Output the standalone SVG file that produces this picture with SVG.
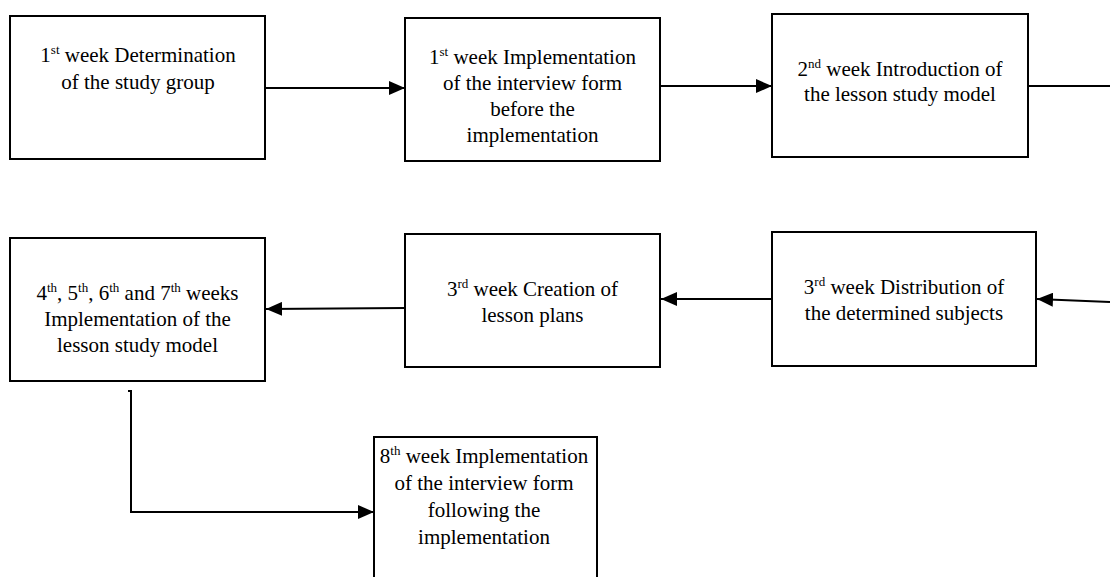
<svg xmlns="http://www.w3.org/2000/svg" width="1110" height="577" viewBox="0 0 1110 577">
<style>
.box{fill:#fff;stroke:#000;stroke-width:2}
text{font-family:'Liberation Serif',serif;font-size:21px;fill:#000;text-anchor:middle}
.s{font-size:13px}
.c{fill:none;stroke:#000;stroke-width:2}
</style>
<defs>
<marker id="ah" markerWidth="16" markerHeight="14" refX="16" refY="7" orient="auto" markerUnits="userSpaceOnUse">
<path d="M0,0 L16,7 L0,14 Z" fill="#000"/>
</marker>
</defs>
<rect width="1110" height="577" fill="#fff"/>
<g id="connectors">
<path class="c" d="M266,88 L405,88" marker-end="url(#ah)"/>
<path class="c" d="M661,86 L772,86" marker-end="url(#ah)"/>
<path class="c" d="M1029,86 L1110,86"/>
<path class="c" d="M1110,302 L1037,299" marker-end="url(#ah)"/>
<path class="c" d="M772,299 L661,299" marker-end="url(#ah)"/>
<path class="c" d="M405,308 L266,309" marker-end="url(#ah)"/>
<path class="c" d="M128,391 L131,391 L131,512 L374,512" marker-end="url(#ah)"/>
</g>
<g font-family="Liberation Serif, Times New Roman, serif">
<g id="n1">
<rect class="box" x="10" y="16" width="255" height="143"/>
<text x="138" y="62">1<tspan class="s" dy="-8">st</tspan><tspan dy="8"> week Determination</tspan></text>
<text x="138" y="89">of the study group</text>
</g>
<g id="n2">
<rect class="box" x="405" y="18" width="255" height="143"/>
<text x="532.5" y="64">1<tspan class="s" dy="-8">st</tspan><tspan dy="8"> week Implementation</tspan></text>
<text x="532.5" y="90">of the interview form</text>
<text x="532.5" y="116">before the</text>
<text x="532.5" y="142">implementation</text>
</g>
<g id="n3">
<rect class="box" x="772" y="14" width="256" height="143"/>
<text x="900" y="76">2<tspan class="s" dy="-8">nd</tspan><tspan dy="8"> week Introduction of</tspan></text>
<text x="900" y="101">the lesson study model</text>
</g>
<g id="n4">
<rect class="box" x="772" y="232" width="264" height="134"/>
<text x="904" y="294">3<tspan class="s" dy="-8">rd</tspan><tspan dy="8"> week Distribution of</tspan></text>
<text x="904" y="320">the determined subjects</text>
</g>
<g id="n5">
<rect class="box" x="405" y="234" width="255" height="133"/>
<text x="532.5" y="296">3<tspan class="s" dy="-8">rd</tspan><tspan dy="8"> week Creation of</tspan></text>
<text x="532.5" y="322">lesson plans</text>
</g>
<g id="n6">
<rect class="box" x="10" y="238" width="255" height="143"/>
<text x="137.5" y="300">4<tspan class="s" dy="-8">th</tspan><tspan dy="8">, 5</tspan><tspan class="s" dy="-8">th</tspan><tspan dy="8">, 6</tspan><tspan class="s" dy="-8">th</tspan><tspan dy="8"> and 7</tspan><tspan class="s" dy="-8">th</tspan><tspan dy="8"> weeks</tspan></text>
<text x="137.5" y="326">Implementation of the</text>
<text x="137.5" y="352">lesson study model</text>
</g>
<g id="n7">
<rect class="box" x="374" y="437" width="223" height="150"/>
<text x="484" y="463">8<tspan class="s" dy="-8">th</tspan><tspan dy="8"> week Implementation</tspan></text>
<text x="484" y="490">of the interview form</text>
<text x="484" y="517">following the</text>
<text x="484" y="544">implementation</text>
</g>
</g>
</svg>
